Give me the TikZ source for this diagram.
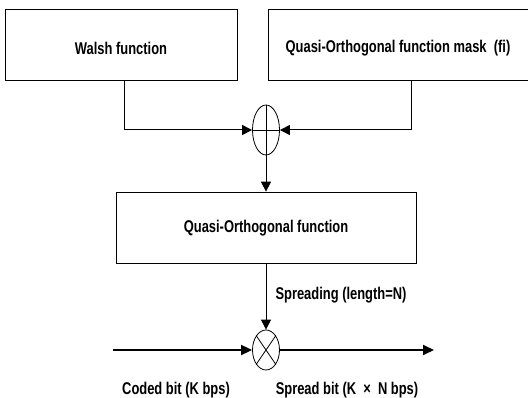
\documentclass[tikz,border=0pt]{standalone}
\usepackage{fontspec}
\setmainfont[FakeStretch=0.76]{Liberation Sans}
\usetikzlibrary{arrows.meta,shapes.geometric}
\begin{document}
\begin{tikzpicture}[x=1pt,y=-1pt,
  box/.style={draw,line width=0.7pt,inner sep=0pt},
  lbl/.style={font=\fontsize{17}{19}\selectfont\bfseries,inner sep=0pt},
  conn/.style={line width=1pt,-{Triangle[length=10pt,width=10pt]}},
  thick conn/.style={line width=1.8pt,-{Triangle[length=11pt,width=10pt]}},
  op/.style={draw,ellipse,line width=0.8pt,inner sep=0pt}]
\useasboundingbox (0,0) rectangle (528,398);
\clip (0,0) rectangle (528,398);
% boxes
\node[box,minimum width=232pt,minimum height=71pt] (walsh) at (121,44.5) {};
\node[lbl] (walshT) at (121,48) {Walsh function};
\node[box,minimum width=272pt,minimum height=71pt] (mask) at (404,44.5) {};
\node[lbl] (maskT) at (398,48) {Quasi-Orthogonal function mask\ \ (fi)};
\node[op,minimum width=27pt,minimum height=50pt] (xor) at (266,130) {};
\draw[line width=0.8pt] (xor.north) -- (xor.south) (xor.west) -- (xor.east);
\node[box,minimum width=300pt,minimum height=71pt] (qo) at (266,227.5) {};
\node[lbl] (qoT) at (266,228) {Quasi-Orthogonal function};
\node[op,minimum width=27pt,minimum height=40pt] (mul) at (266,350) {};
\draw[line width=0.8pt] (mul.north west) -- (mul.south east) (mul.north east) -- (mul.south west);
% connector helpers
\coordinate (wdrop) at (124,0);
\coordinate (mdrop) at (411,0);
\coordinate (in) at (113,350);
\coordinate (out) at (434,350);
% connectors
\draw[conn] (walsh.south -| wdrop) |- (xor.west);
\draw[conn] (mask.south -| mdrop) |- (xor.east);
\draw[conn] (xor.south) -- (qo.north);
\draw[conn] (qo.south) -- (mul.north);
\draw[thick conn] (in) -- (mul.west);
\draw[thick conn] (mul.east) -- (out);
% labels
\node[lbl] (spr) at (341,295) {Spreading (length=N)};
\node[lbl] (coded) at (176,390) {Coded bit (K bps)};
\node[lbl] (spread) at (347,390) {Spread bit (K\ \ ×\ \ N bps)};
\end{tikzpicture}
\end{document}
